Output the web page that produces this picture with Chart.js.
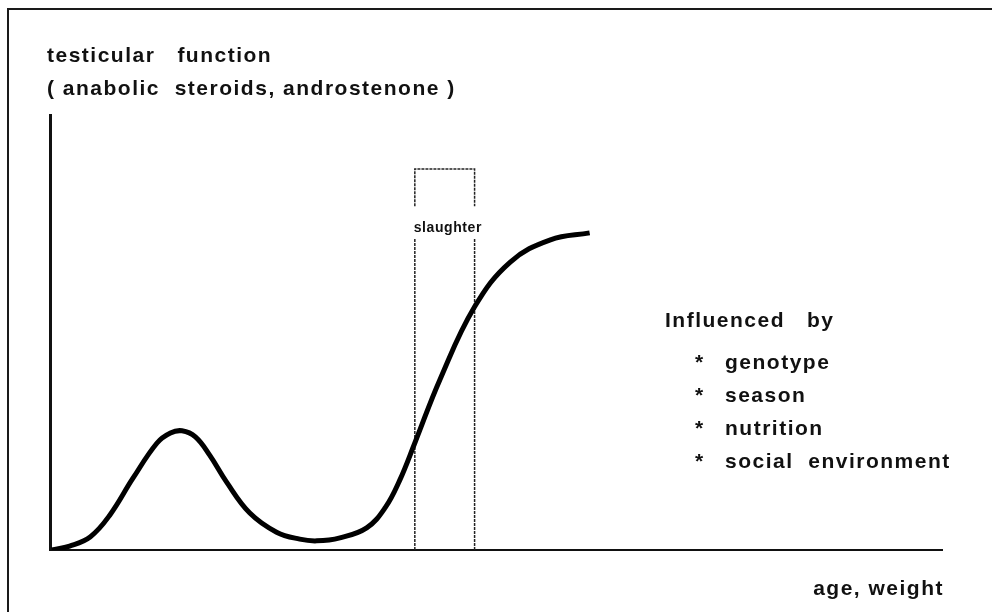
<!DOCTYPE html>
<html>
<head>
<meta charset="utf-8">
<script src="https://cdn.jsdelivr.net/npm/chart.js@4.4.1/dist/chart.umd.min.js"></script>
<style>
  body { margin: 0; background: #fff; }
  #wrap { position: relative; width: 992px; height: 612px; overflow: hidden; }
  #frame { position: absolute; left: 7px; top: 8px; width: 1000px; height: 700px;
           border-left: 2px solid #1a1a1a; border-top: 2px solid #1a1a1a; }
  #wrap canvas { position: absolute; left: 0; top: 0; }
</style>
</head>
<body>
<div id="wrap">
  <div id="frame"></div>
  <canvas id="chart" width="992" height="612"></canvas>
</div>
<script>
// curve (arbitrary units, 0-100 on both axes)
const ageWeight = [0.2, 2.2, 4.5, 6.7, 9.3, 12.0, 13.5, 14.8, 16.3, 17.9, 19.8, 22.4, 25.4, 28.0, 29.9, 32.5, 35.5, 37.6, 39.2, 40.9, 43.7, 47.6, 51.6, 56.1, 60.5];
const testicularFunction = [0, 0.9, 3.0, 8.0, 16.5, 24.6, 26.9, 27.4, 26.0, 21.8, 15.6, 8.5, 4.1, 2.5, 2.1, 2.8, 5.1, 9.8, 16.0, 24.6, 39.1, 55.9, 66.2, 71.3, 72.9];

// slaughter window (dotted box, broken where the label sits)
const slaughterX = [40.9, 40.9, 40.9, 40.9, 40.9, 47.6, 47.6, 47.6, 47.6, 47.6];
const slaughterY = [0, 71.5, null, 79.0, 87.6, 87.6, 79.0, null, 71.5, 0];

const yTitle = ['testicular   function', '( anabolic  steroids, androstenone )'];
const xTitle = 'age, weight';
const boxLabel = 'slaughter';
const influenceTitle = 'Influenced   by';
const influences = ['genotype', 'season', 'nutrition', 'social  environment'];

const FONT = '"Liberation Sans", Arial, Helvetica, sans-serif';

const textPlugin = {
  id: 'figureText',
  afterDraw(chart) {
    const ctx = chart.ctx;
    const x = chart.scales.x;
    const y = chart.scales.y;
    ctx.save();
    ctx.fillStyle = '#111';
    ctx.textBaseline = 'alphabetic';

    ctx.font = 'bold 21px ' + FONT;
    ctx.letterSpacing = '1.5px';
    ctx.textAlign = 'left';
    ctx.fillText(yTitle[0], 47, 62);
    ctx.fillText(yTitle[1], 47, 95);

    ctx.textAlign = 'right';
    ctx.fillText(xTitle, 944, 595);

    ctx.font = 'bold 14px ' + FONT;
    ctx.letterSpacing = '0.6px';
    ctx.textAlign = 'center';
    ctx.fillText(boxLabel, x.getPixelForValue(44.6), y.getPixelForValue(73.0));

    ctx.font = 'bold 21px ' + FONT;
    ctx.letterSpacing = '1.5px';
    ctx.textAlign = 'left';
    ctx.fillText(influenceTitle, 665, 327);
    influences.forEach((item, i) => {
      const by = 369 + i * 33;
      ctx.fillText('*', 695, by);
      ctx.fillText(item, 725, by);
    });
    ctx.restore();
  }
};

new Chart(document.getElementById('chart'), {
  type: 'line',
  data: {
    datasets: [{
      data: ageWeight.map((v, i) => ({ x: v, y: testicularFunction[i] })),
      borderColor: '#000',
      borderWidth: 5,
      pointRadius: 0,
      tension: 0.4,
      fill: false
    }, {
      data: slaughterX.map((v, i) => ({ x: v, y: slaughterY[i] })),
      borderColor: '#222',
      borderWidth: 1.5,
      borderDash: [3, 1],
      pointRadius: 0,
      tension: 0,
      spanGaps: false,
      fill: false
    }]
  },
  options: {
    responsive: false,
    animation: false,
    layout: { padding: { left: 42, right: 50, top: 115, bottom: 54 } },
    plugins: {
      legend: { display: false },
      tooltip: { enabled: false },
      title: { display: false }
    },
    scales: {
      x: {
        type: 'linear',
        min: 0,
        max: 100,
        grid: { display: false },
        ticks: { display: false },
        border: { display: true, color: '#111', width: 2 }
      },
      y: {
        min: 0,
        max: 100,
        grid: { display: false },
        ticks: { display: false },
        border: { display: true, color: '#111', width: 3 }
      }
    }
  },
  plugins: [textPlugin]
});
</script>
</body>
</html>
